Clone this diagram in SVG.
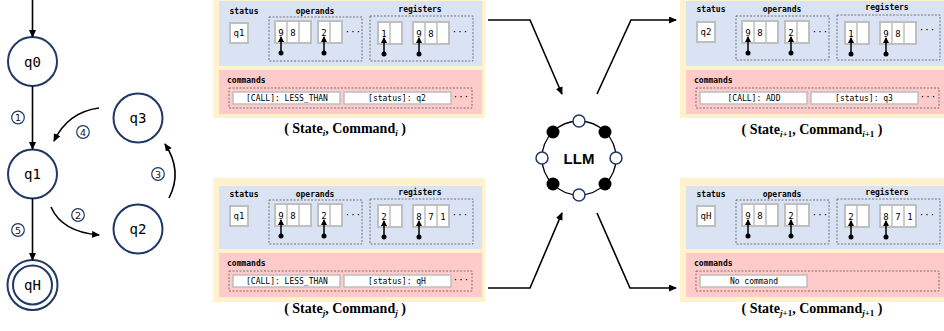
<svg xmlns="http://www.w3.org/2000/svg" width="944" height="331" viewBox="0 0 944 331">
<style>
.mono{font-family:"DejaVu Sans Mono","Liberation Mono",monospace;fill:#000}
.lbl{font-size:8px;font-weight:bold;text-anchor:middle}
.lbls{font-size:8px;font-weight:bold}
.cmd{font-size:8px;text-anchor:middle}
.dig{font-size:9px;text-anchor:middle}
.cap{font-family:"Liberation Serif",serif;font-weight:bold;font-size:14px;text-anchor:middle;fill:#000}
.sub{font-size:9px;font-style:italic}
.subn{font-size:9px}
.yel{fill:#fff2cc}
.blu{fill:#dae3f3}
.pnk{fill:#ffcaca}
.box{fill:#fff;stroke:#bfbfbf;stroke-width:2}
.div{stroke:#bfbfbf;stroke-width:1.5;fill:none}
.cbox{fill:#fff;stroke:#bfbfbf;stroke-width:1.5}
.dash{fill:none;stroke:#595959;stroke-width:0.8;stroke-dasharray:2,1.5}
.ptr{stroke:#000;stroke-width:1.5;marker-end:url(#ph)}
.st{fill:#fff;stroke:#1f3864;stroke-width:2}
.stt{font-family:"DejaVu Sans Mono","Liberation Mono",monospace;font-size:14px;text-anchor:middle;fill:#000}
.nc{fill:#fff;stroke:#1f3864;stroke-width:1.2}
.num{font-family:"DejaVu Sans","Noto Sans",sans-serif;font-size:9.5px;text-anchor:middle;fill:#111}
.edge{fill:none;stroke:#000;stroke-width:1.6;marker-end:url(#ah)}
.hn{fill:#fff;stroke:#1f3864;stroke-width:1.5}
</style>
<defs>
<marker id="ah" markerWidth="8" markerHeight="7" refX="7" refY="3.5" orient="auto" markerUnits="userSpaceOnUse"><path d="M0,0L8,3.5L0,7z" fill="#000"/></marker>
<marker id="ph" markerWidth="6" markerHeight="6" refX="5" refY="3" orient="auto" markerUnits="userSpaceOnUse"><path d="M0,0L6,3L0,6z" fill="#000"/></marker>
</defs>

<g id="q0"><circle class="st" cx="32.5" cy="61.5" r="24.5"/><text class="stt" x="32.5" y="66.5">q0</text></g>
<g id="q1"><circle class="st" cx="32.5" cy="174" r="24.5"/><text class="stt" x="32.5" y="179">q1</text></g>
<g id="q2"><circle class="st" cx="138" cy="229" r="24.5"/><text class="stt" x="138" y="234">q2</text></g>
<g id="q3"><circle class="st" cx="138" cy="118" r="24.5"/><text class="stt" x="138" y="123">q3</text></g>
<g id="qH"><circle class="st" cx="32.5" cy="285" r="25"/><circle class="st" cx="32.5" cy="285" r="19.5"/><text class="stt" x="32.5" y="290">qH</text></g>

<g id="state-machine-edges">
<path class="edge" d="M32.5,0V37"/>
<path class="edge" d="M32.5,86V149"/>
<path class="edge" d="M32.5,198.5V260"/>
<path class="edge" d="M99,108Q68,112 54,141"/>
<path class="edge" d="M51,207Q62,232 99,235"/>
<path class="edge" d="M169,198Q183,171 165,144"/>
<circle class="nc" cx="18" cy="117.5" r="6.3"/><text class="num" x="18" y="121">1</text>
<circle class="nc" cx="78" cy="215" r="6.3"/><text class="num" x="78" y="218.5">2</text>
<circle class="nc" cx="158" cy="174" r="6.3"/><text class="num" x="158" y="177.5">3</text>
<circle class="nc" cx="83" cy="132" r="6.3"/><text class="num" x="83" y="135.5">4</text>
<circle class="nc" cx="18" cy="230" r="6.3"/><text class="num" x="18" y="233.5">5</text>
</g>

<g id="llm">
<circle cx="579" cy="158" r="37" fill="none" stroke="#000" stroke-width="1.3"/>
<circle class="hn" cx="579" cy="121" r="6"/>
<circle class="hn" cx="579" cy="195" r="6"/>
<circle class="hn" cx="542" cy="158" r="6"/>
<circle class="hn" cx="616" cy="158" r="6"/>
<circle cx="553" cy="132" r="6.5" fill="#000"/>
<circle cx="605" cy="132" r="6.5" fill="#000"/>
<circle cx="553" cy="184" r="6.5" fill="#000"/>
<circle cx="605" cy="184" r="6.5" fill="#000"/>
<text x="579" y="163.5" font-family="Liberation Sans,Arial,sans-serif" font-weight="bold" font-size="15" text-anchor="middle">LLM</text>
</g>

<g id="llm-edges">
<path class="edge" d="M488,20H530L562,94"/>
<path class="edge" d="M488,288H530L562,213"/>
<path class="edge" d="M597,94L631,20H676"/>
<path class="edge" d="M597,213L630,288H676"/>
</g>

<g id="state-i">
<rect class="yel" x="213" y="-5" width="272" height="123"/>
<rect class="blu" x="219" y="1" width="263" height="65"/>
<rect class="pnk" x="219" y="70" width="263" height="44"/>
<text class="mono lbl" x="244" y="14">status</text>
<rect class="box" x="230" y="23" width="18" height="20"/>
<text class="mono dig" x="239" y="36">q1</text>
<text class="mono lbl" x="315" y="14">operands</text>
<rect class="dash" x="269" y="17" width="93" height="44"/>
<rect class="box" x="275" y="21" width="36" height="22"/><path class="div" d="M287,21V43M299,21V43"/>
<text class="mono dig" x="281" y="36">9</text><text class="mono dig" x="293" y="36">8</text>
<rect class="box" x="318" y="21" width="24" height="22"/><path class="div" d="M330,21V43"/>
<text class="mono dig" x="324" y="36">2</text>
<text class="mono dig" x="353" y="35">···</text>
<line class="ptr" x1="281" y1="53" x2="281" y2="37"/><circle cx="281" cy="53" r="2.5"/>
<line class="ptr" x1="324" y1="53" x2="324" y2="37"/><circle cx="324" cy="53" r="2.5"/>
<text class="mono lbl" x="420" y="12">registers</text>
<rect class="dash" x="370" y="16" width="103" height="45"/>
<rect class="box" x="378" y="22" width="24" height="22"/><path class="div" d="M390,22V44"/>
<text class="mono dig" x="384" y="37">1</text>
<rect class="box" x="413" y="22" width="36" height="22"/><path class="div" d="M425,22V44M437,22V44"/>
<text class="mono dig" x="419" y="37">9</text><text class="mono dig" x="431" y="37">8</text>
<text class="mono dig" x="460" y="35">···</text>
<line class="ptr" x1="384" y1="54" x2="384" y2="38"/><circle cx="384" cy="54" r="2.5"/>
<line class="ptr" x1="419" y1="54" x2="419" y2="38"/><circle cx="419" cy="54" r="2.5"/>
<text class="mono lbls" x="227" y="83">commands</text>
<rect class="dash" x="229" y="88" width="243" height="20"/>
<rect class="cbox" x="233" y="92" width="107" height="12"/>
<text class="mono cmd" x="287" y="101">[CALL]: LESS_THAN</text>
<rect class="cbox" x="344" y="92" width="107" height="12"/>
<text class="mono cmd" x="397" y="101">[status]: q2</text>
<text class="mono dig" x="461" y="100">···</text>
<text class="cap" x="345" y="133">( State<tspan class="sub" dy="3">i</tspan><tspan dy="-3">, Command</tspan><tspan class="sub" dy="3">i</tspan><tspan dy="-3"> )</tspan></text>
</g>

<g id="state-j" transform="translate(0,183)">
<rect class="yel" x="213" y="-5" width="272" height="124"/>
<rect class="blu" x="219" y="3" width="263" height="63"/>
<rect class="pnk" x="219" y="70" width="263" height="44"/>
<text class="mono lbl" x="244" y="14">status</text>
<rect class="box" x="230" y="23" width="18" height="20"/>
<text class="mono dig" x="239" y="36">q1</text>
<text class="mono lbl" x="315" y="14">operands</text>
<rect class="dash" x="269" y="17" width="93" height="44"/>
<rect class="box" x="275" y="21" width="36" height="22"/><path class="div" d="M287,21V43M299,21V43"/>
<text class="mono dig" x="281" y="36">9</text><text class="mono dig" x="293" y="36">8</text>
<rect class="box" x="318" y="21" width="24" height="22"/><path class="div" d="M330,21V43"/>
<text class="mono dig" x="324" y="36">2</text>
<text class="mono dig" x="353" y="35">···</text>
<line class="ptr" x1="281" y1="53" x2="281" y2="37"/><circle cx="281" cy="53" r="2.5"/>
<line class="ptr" x1="324" y1="53" x2="324" y2="37"/><circle cx="324" cy="53" r="2.5"/>
<text class="mono lbl" x="420" y="12">registers</text>
<rect class="dash" x="370" y="16" width="103" height="45"/>
<rect class="box" x="378" y="22" width="24" height="22"/><path class="div" d="M390,22V44"/>
<text class="mono dig" x="384" y="37">2</text>
<rect class="box" x="413" y="22" width="36" height="22"/><path class="div" d="M425,22V44M437,22V44"/>
<text class="mono dig" x="419" y="37">8</text><text class="mono dig" x="431" y="37">7</text><text class="mono dig" x="443" y="37">1</text>
<text class="mono dig" x="460" y="35">···</text>
<line class="ptr" x1="384" y1="54" x2="384" y2="38"/><circle cx="384" cy="54" r="2.5"/>
<line class="ptr" x1="419" y1="54" x2="419" y2="38"/><circle cx="419" cy="54" r="2.5"/>
<text class="mono lbls" x="227" y="83">commands</text>
<rect class="dash" x="229" y="88" width="243" height="20"/>
<rect class="cbox" x="233" y="92" width="107" height="12"/>
<text class="mono cmd" x="287" y="101">[CALL]: LESS_THAN</text>
<rect class="cbox" x="344" y="92" width="107" height="12"/>
<text class="mono cmd" x="397" y="101">[status]: qH</text>
<text class="mono dig" x="461" y="100">···</text>
<text class="cap" x="345" y="130">( State<tspan class="sub" dy="3">j</tspan><tspan dy="-3">, Command</tspan><tspan class="sub" dy="3">j</tspan><tspan dy="-3"> )</tspan></text>
</g>

<g id="state-i1" transform="translate(467,0)">
<rect class="yel" x="213" y="-5" width="272" height="123"/>
<rect class="blu" x="219" y="1" width="263" height="65"/>
<rect class="pnk" x="219" y="70" width="263" height="44"/>
<text class="mono lbl" x="244" y="12">status</text>
<rect class="box" x="230" y="22" width="18" height="20"/>
<text class="mono dig" x="239" y="35">q2</text>
<text class="mono lbl" x="315" y="12">operands</text>
<rect class="dash" x="269" y="16" width="93" height="44"/>
<rect class="box" x="275" y="21" width="36" height="22"/><path class="div" d="M287,21V43M299,21V43"/>
<text class="mono dig" x="281" y="36">9</text><text class="mono dig" x="293" y="36">8</text>
<rect class="box" x="318" y="21" width="24" height="22"/><path class="div" d="M330,21V43"/>
<text class="mono dig" x="324" y="36">2</text>
<text class="mono dig" x="353" y="35">···</text>
<line class="ptr" x1="281" y1="53" x2="281" y2="37"/><circle cx="281" cy="53" r="2.5"/>
<line class="ptr" x1="324" y1="53" x2="324" y2="37"/><circle cx="324" cy="53" r="2.5"/>
<text class="mono lbl" x="420" y="10">registers</text>
<rect class="dash" x="370" y="15" width="103" height="45"/>
<rect class="box" x="378" y="22" width="24" height="22"/><path class="div" d="M390,22V44"/>
<text class="mono dig" x="384" y="37">1</text>
<rect class="box" x="413" y="22" width="36" height="22"/><path class="div" d="M425,22V44M437,22V44"/>
<text class="mono dig" x="419" y="37">9</text><text class="mono dig" x="431" y="37">8</text>
<text class="mono dig" x="460" y="33">···</text>
<line class="ptr" x1="384" y1="54" x2="384" y2="38"/><circle cx="384" cy="54" r="2.5"/>
<line class="ptr" x1="419" y1="54" x2="419" y2="38"/><circle cx="419" cy="54" r="2.5"/>
<text class="mono lbls" x="227" y="83">commands</text>
<rect class="dash" x="229" y="88" width="243" height="20"/>
<rect class="cbox" x="233" y="92" width="107" height="12"/>
<text class="mono cmd" x="287" y="101">[CALL]: ADD</text>
<rect class="cbox" x="344" y="92" width="107" height="12"/>
<text class="mono cmd" x="397" y="101">[status]: q3</text>
<text class="mono dig" x="461" y="100">···</text>
<text class="cap" x="345" y="134">( State<tspan class="sub" dy="3">i</tspan><tspan class="subn" font-weight="bold">+1</tspan><tspan dy="-3">, Command</tspan><tspan class="sub" dy="3">i</tspan><tspan class="subn" font-weight="bold">+1</tspan><tspan dy="-3"> )</tspan></text>
</g>

<g id="state-j1" transform="translate(467,183)">
<rect class="yel" x="213" y="-5" width="272" height="124"/>
<rect class="blu" x="219" y="3" width="263" height="63"/>
<rect class="pnk" x="219" y="70" width="263" height="44"/>
<text class="mono lbl" x="244" y="14">status</text>
<rect class="box" x="230" y="23" width="18" height="20"/>
<text class="mono dig" x="239" y="36">qH</text>
<text class="mono lbl" x="315" y="14">operands</text>
<rect class="dash" x="269" y="17" width="93" height="44"/>
<rect class="box" x="275" y="21" width="36" height="22"/><path class="div" d="M287,21V43M299,21V43"/>
<text class="mono dig" x="281" y="36">9</text><text class="mono dig" x="293" y="36">8</text>
<rect class="box" x="318" y="21" width="24" height="22"/><path class="div" d="M330,21V43"/>
<text class="mono dig" x="324" y="36">2</text>
<text class="mono dig" x="353" y="35">···</text>
<line class="ptr" x1="281" y1="53" x2="281" y2="37"/><circle cx="281" cy="53" r="2.5"/>
<line class="ptr" x1="324" y1="53" x2="324" y2="37"/><circle cx="324" cy="53" r="2.5"/>
<text class="mono lbl" x="420" y="12">registers</text>
<rect class="dash" x="370" y="16" width="103" height="45"/>
<rect class="box" x="378" y="22" width="24" height="22"/><path class="div" d="M390,22V44"/>
<text class="mono dig" x="384" y="37">2</text>
<rect class="box" x="413" y="22" width="36" height="22"/><path class="div" d="M425,22V44M437,22V44"/>
<text class="mono dig" x="419" y="37">8</text><text class="mono dig" x="431" y="37">7</text><text class="mono dig" x="443" y="37">1</text>
<text class="mono dig" x="460" y="35">···</text>
<line class="ptr" x1="384" y1="54" x2="384" y2="38"/><circle cx="384" cy="54" r="2.5"/>
<line class="ptr" x1="419" y1="54" x2="419" y2="38"/><circle cx="419" cy="54" r="2.5"/>
<text class="mono lbls" x="227" y="83">commands</text>
<rect class="dash" x="229" y="88" width="243" height="20"/>
<rect class="cbox" x="233" y="92" width="107" height="12"/>
<text class="mono cmd" x="287" y="101">No command</text>
<text class="cap" x="345" y="130">( State<tspan class="sub" dy="3">j</tspan><tspan class="subn" font-weight="bold">+1</tspan><tspan dy="-3">, Command</tspan><tspan class="sub" dy="3">j</tspan><tspan class="subn" font-weight="bold">+1</tspan><tspan dy="-3"> )</tspan></text>
</g>
</svg>
